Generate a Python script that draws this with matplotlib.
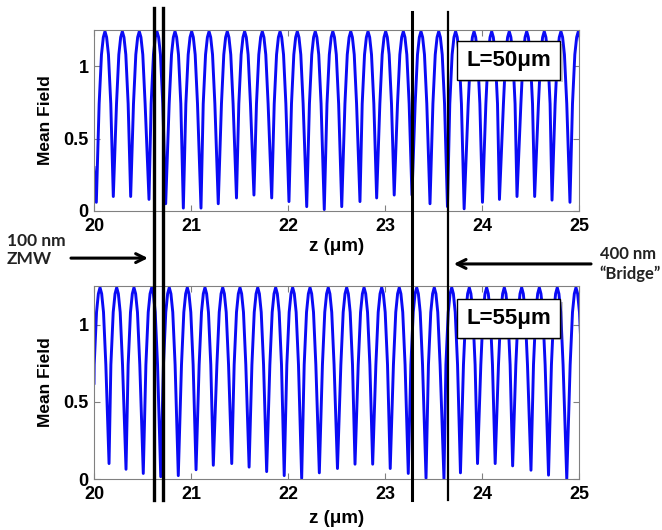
import numpy as np
import matplotlib
matplotlib.use("Agg")
import matplotlib.pyplot as plt
import matplotlib.patheffects as pe
from matplotlib.lines import Line2D
from matplotlib.transforms import blended_transform_factory

plt.rcParams['font.family'] = ['Liberation Sans', 'DejaVu Sans']

# fringe maxima / minima (z in um)
top_peak_z = [20.113, 20.292, 20.467, 20.649, 20.835, 21.007, 21.186, 21.374,
              21.553, 21.735, 21.918, 22.096, 22.281, 22.462, 22.647, 22.825,
              23.007, 23.189, 23.371, 23.554, 23.728, 23.918, 24.100, 24.281,
              24.461, 24.642, 24.814, 24.993]
top_trough_z = [20.024, 20.199, 20.378, 20.567, 20.739, 20.921, 21.103, 21.281,
                21.469, 21.649, 21.832, 22.010, 22.193, 22.374, 22.554, 22.742,
                22.914, 23.095, 23.278, 23.464, 23.644, 23.816, 24.005, 24.180,
                24.361, 24.543, 24.722, 24.907]
top_trough_val = [0.06, 0.10, 0.10, 0.08, 0.05, 0.02, 0.02, 0.05,
                  0.09, 0.11, 0.09, 0.065, 0.03, 0.01, 0.03, 0.065,
                  0.09, 0.11, 0.11, 0.05, 0.03, 0.015, 0.06, 0.08,
                  0.10, 0.10, 0.075, 0.06]
top_start = (20.0, 0.3)

bot_peak_z = [20.062, 20.234, 20.412, 20.595, 20.776, 20.962, 21.144, 21.327,
              21.505, 21.688, 21.873, 22.048, 22.227, 22.415, 22.605, 22.784,
              22.966, 23.147, 23.327, 23.508, 23.688, 23.869, 24.048, 24.230,
              24.409, 24.591, 24.776, 24.969]
bot_trough_z = [20.155, 20.330, 20.508, 20.688, 20.869, 21.052, 21.230, 21.420,
                21.599, 21.780, 21.961, 22.141, 22.323, 22.510, 22.691, 22.873,
                23.054, 23.240, 23.423, 23.608, 23.778, 23.954, 24.136, 24.316,
                24.505, 24.686, 24.874]
bot_trough_val = [0.10, 0.063, 0.036, 0.015, 0.022, 0.06, 0.089, 0.10,
                  0.077, 0.048, 0.022, 0.004, 0.04, 0.068, 0.096, 0.096,
                  0.068, 0.036, 0.005, 0.0, 0.04, 0.10, 0.10, 0.085,
                  0.057, 0.025, 0.0]
bot_start = (20.0, 0.62)

# shape of one fringe around its maximum (offset from peak, level)
fringe_offset = [-0.06, -0.036, -0.017, 0.0, 0.017, 0.036, 0.06]
fringe_level = [0.74, 1.08, 1.2, 1.24, 1.2, 1.08, 0.74]

boundaries = [20.619, 20.711, 23.278, 23.649]
boundary_lw = [2.4, 2.4, 2.2, 1.6]

labels = ['L=50\u03bcm', 'L=55\u03bcm']


def build_curve(start, peak_z, trough_z, trough_val):
    pts = [start]
    for p in peak_z:
        for dz, lv in zip(fringe_offset, fringe_level):
            pts.append((p + dz, lv))
    pts += list(zip(trough_z, trough_val))
    pts.sort()
    pts = np.array(pts)
    return pts[:, 0], pts[:, 1]


fig = plt.figure(figsize=(6.62, 5.30), dpi=100)
ax1 = fig.add_axes([0.142, 0.6019, 0.7326, 0.3415])
ax2 = fig.add_axes([0.142, 0.0962, 0.7326, 0.3642])

curves = [build_curve(top_start, top_peak_z, top_trough_z, top_trough_val),
          build_curve(bot_start, bot_peak_z, bot_trough_z, bot_trough_val)]

for ax, (z, f), lab, pad in zip([ax1, ax2], curves, labels, [2, 5]):
    ax.plot(z, f, color='#0a0af5', lw=2.1)
    ax.set_xlim(20, 25)
    ax.set_ylim(0, 1.25)
    ax.set_xticks([20, 21, 22, 23, 24, 25])
    ax.set_yticks([0, 0.5, 1])
    ax.set_yticklabels(['0', '0.5', '1'])
    ax.tick_params(direction='in', length=4, width=0.8, color='#808080',
                   top=True, right=True, labelsize=13)
    ax.tick_params(axis='x', pad=5)
    ax.tick_params(axis='y', pad=4)
    for t in ax.get_xticklabels() + ax.get_yticklabels():
        t.set_fontweight('bold')
    for s in ax.spines.values():
        s.set_color('#808080')
        s.set_linewidth(0.8)
    ax.set_ylabel('Mean Field', fontsize=12.5, fontweight='bold', labelpad=7)
    ax.set_xlabel('z (\u03bcm)', fontsize=13.5, fontweight='bold', labelpad=pad)
    t = ax.text(0.855, 0.833, lab, transform=ax.transAxes, ha='center', va='center',
                fontsize=16, fontweight='bold',
                bbox=dict(boxstyle='square,pad=0.4', fc='white', ec='black', lw=1))
    t.get_bbox_patch().set_path_effects([pe.withSimplePatchShadow(offset=(2, -2), alpha=0.3)])

# vertical boundary lines across both panels
tr = blended_transform_factory(ax1.transData, fig.transFigure)
for zb, lw, top in zip(boundaries, boundary_lw, [0.985, 0.985, 0.978, 0.978]):
    fig.add_artist(Line2D([zb, zb], [0.056, top], transform=tr, color='black',
                          lw=lw, clip_on=False))

fig.text(0.0106, 0.528, '100 nm\nZMW', ha='left', va='center', fontsize=12.5,
         fontweight='bold', family=['Lato', 'DejaVu Sans'], color='#222222',
         linespacing=1.2)
ax1.annotate('', xy=(20.585, 0.513), xycoords=tr,
             xytext=(0.103, 0.513), textcoords='figure fraction',
             arrowprops=dict(arrowstyle='->', lw=2.2, color='black', mutation_scale=16))

fig.text(0.906, 0.502, '400 nm\n\u201cBridge\u201d', ha='left', va='center', fontsize=12,
         fontweight='bold', family=['Lato', 'DejaVu Sans'], color='#222222',
         linespacing=1.3)
ax1.annotate('', xy=(23.68, 0.502), xycoords=tr,
             xytext=(0.897, 0.502), textcoords='figure fraction',
             arrowprops=dict(arrowstyle='->', lw=2.2, color='black', mutation_scale=16))

fig.savefig('out.png', dpi=100)
